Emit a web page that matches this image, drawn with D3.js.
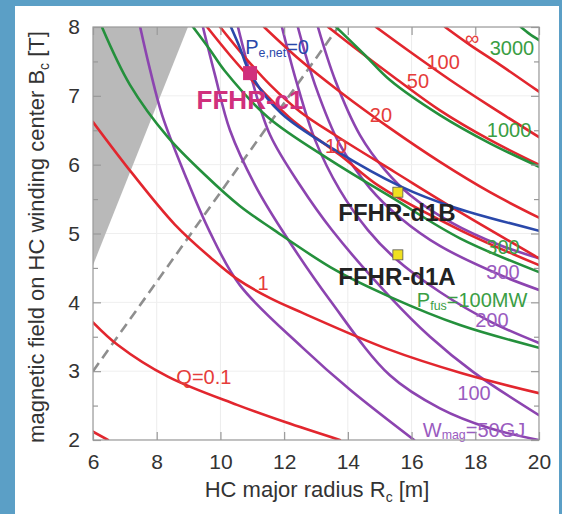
<!DOCTYPE html>
<html><head><meta charset="utf-8">
<script src="https://cdn.jsdelivr.net/npm/d3@7"></script>
<style>body{margin:0;background:#5b9fc6;} svg{display:block}</style>
</head><body><svg id="c" width="562" height="514"></svg>
<script>
// ---------- data (R [m], B [T]) ----------
const xTicks = [6, 8, 10, 12, 14, 16, 18, 20];
const yTicks = [2, 3, 4, 5, 6, 7, 8];
const yMinorTicks = [2.5, 3.5, 4.5, 5.5, 6.5, 7.5];

// Q contours (red)
const qLow   = [[6.00,2.12],[6.47,2.00]];
const q0_1   = [[6.00,3.71],[6.78,3.38],[8.35,2.92],[10.52,2.51],[12.03,2.26],[13.75,2.00]];
const q1     = [[6.00,6.62],[7.22,5.88],[8.57,5.13],[9.74,4.63],[10.52,4.34],[11.56,4.06],[12.56,3.85],[15.26,3.32],[17.58,2.97],[20.0,2.68]];
const qMid   = [[9.58,8.0],[10.30,7.59],[10.99,7.23],[12.18,6.68],[13.75,6.14],[15.01,5.68],[17.52,5.05],[20.0,4.54]];
const q10    = [[9.99,8.0],[10.77,7.56],[11.56,7.16],[12.50,6.77],[13.63,6.42],[15.48,5.89],[17.52,5.31],[20.0,4.64]];
const q20    = [[11.37,8.0],[12.50,7.52],[13.75,7.06],[15.32,6.53],[16.89,6.04],[18.46,5.60],[20.0,5.23]];
const q50    = [[13.38,8.0],[14.38,7.64],[15.48,7.26],[16.89,6.79],[18.46,6.36],[20.0,6.00]];
const q100   = [[14.88,8.0],[15.95,7.64],[17.21,7.23],[18.46,6.85],[20.0,6.40]];
const qInf   = [[17.05,8.0],[17.83,7.74],[18.78,7.45],[20.0,7.06]];

// fusion power contours (green)
const pf100  = [[6.28,8.0],[7.16,7.16],[8.35,6.40],[9.52,5.85],[10.61,5.40],[11.62,5.07],[13.60,4.47],[15.32,4.08],[17.52,3.67],[20.0,3.34]];
const pf300  = [[9.14,8.0],[9.67,7.67],[10.14,7.36],[11.49,6.69],[13.44,6.07],[15.39,5.52],[17.52,4.93],[20.0,4.44]];
const pf1000 = [[13.63,8.0],[14.54,7.59],[15.32,7.23],[16.89,6.72],[18.46,6.31],[20.0,5.97]];
const pf3000 = [[19.43,8.0],[19.70,7.90],[20.0,7.81]];

// stored magnetic energy contours (purple)
const wLow   = [[7.48,8.0],[7.79,7.38],[8.17,6.72],[8.89,5.85],[9.67,5.02],[10.61,4.25],[12.56,3.35],[14.07,2.73],[16.08,2.0]];
const w50    = [[9.45,8.0],[9.83,7.30],[10.30,6.50],[11.09,5.70],[11.93,5.05],[13.44,4.03],[15.32,2.94],[16.89,2.46],[18.46,2.17],[20.0,2.0]];
const w100   = [[10.55,8.0],[10.99,7.23],[11.56,6.43],[12.50,5.70],[13.50,5.05],[15.32,4.08],[16.58,3.50],[17.93,2.99],[20.0,2.36]];
const w200   = [[11.93,8.0],[12.37,7.23],[12.97,6.36],[13.75,5.63],[14.63,5.05],[15.48,4.64],[16.89,4.15],[18.52,3.71],[20.0,3.41]];
const w300   = [[12.43,8.0],[12.97,7.16],[13.75,6.29],[14.69,5.66],[15.64,5.23],[16.89,4.82],[18.87,4.38],[20.0,4.18]];
const wHigh  = [[13.06,8.0],[13.60,7.23],[14.38,6.43],[15.17,5.92],[15.95,5.56],[17.21,5.17],[18.78,4.83],[20.0,4.64]];

// net electric power = 0 (blue)
const peNet0 = [[10.33,8.0],[10.61,7.70],[10.93,7.33],[11.90,6.75],[13.60,6.21],[15.67,5.68],[17.27,5.39],[20.0,5.04]];

// excluded region (grey) and dashed line
const greyRegion = [[6,8],[8.98,8],[6,4.54]];
const dashedLine = [[6,3.0],[13.7,8.0]];

// design points
const designs = [
  {name:"FFHR-c1",  R:10.93, B:7.33},
  {name:"FFHR-d1B", R:15.57, B:5.60},
  {name:"FFHR-d1A", R:15.57, B:4.69}
];

// ---------- drawing ----------
const svg = d3.select("#c");
const FONT = "'Liberation Sans', Arial, Helvetica, sans-serif";
svg.append("rect").attr("x",15).attr("y",6).attr("width",544).attr("height",508).attr("fill","#ffffff");

const x = d3.scaleLinear().domain([6,20]).range([93,539]);
const y = d3.scaleLinear().domain([2,8]).range([440,27]);

svg.append("defs").append("clipPath").attr("id","plot")
  .append("rect").attr("x",x(6)).attr("y",y(8)).attr("width",x(20)-x(6)).attr("height",y(2)-y(8));

const g = svg.append("g").attr("clip-path","url(#plot)");

// faint grid
g.selectAll(".gx").data(xTicks).join("line")
  .attr("x1",d=>x(d)).attr("x2",d=>x(d)).attr("y1",y(2)).attr("y2",y(8))
  .attr("stroke","#ececec").attr("stroke-width",1);
g.selectAll(".gy").data(yTicks).join("line")
  .attr("y1",d=>y(d)).attr("y2",d=>y(d)).attr("x1",x(6)).attr("x2",x(20))
  .attr("stroke","#efefef").attr("stroke-width",1);

// grey region
g.append("path").attr("d", d3.line().x(d=>x(d[0])).y(d=>y(d[1]))(greyRegion)+"Z")
  .attr("fill","#b9b9b9");

// dashed line
g.append("path").attr("d", d3.line().x(d=>x(d[0])).y(d=>y(d[1]))(dashedLine))
  .attr("stroke","#8e8e8e").attr("stroke-width",2.6).attr("stroke-dasharray","10,6").attr("fill","none");

const line = d3.line().x(d=>x(d[0])).y(d=>y(d[1])).curve(d3.curveCatmullRom.alpha(0.5));
const RED="#e2262e", GREEN="#24903c", PURPLE="#8c44b0", BLUE="#2a48aa";

const curves = [
  ...[wLow,w50,w100,w200,w300,wHigh].map(d=>({d, c:PURPLE})),
  ...[qLow,q0_1,q1,qMid,q10,q20,q50,q100,qInf].map(d=>({d, c:RED})),
  ...[pf100,pf300,pf1000,pf3000].map(d=>({d, c:GREEN})),
  {d:peNet0, c:BLUE}
];
g.selectAll(".curve").data(curves).join("path")
  .attr("d",d=>line(d.d)).attr("fill","none")
  .attr("stroke",d=>d.c).attr("stroke-width",2.6).attr("stroke-linecap","round");

// design markers
const c1 = designs[0];
svg.append("rect").attr("x",x(c1.R)-7).attr("y",y(c1.B)-7).attr("width",14).attr("height",14)
  .attr("fill","#d0307c");
svg.selectAll(".dm").data(designs.slice(1)).join("rect")
  .attr("x",d=>x(d.R)-5).attr("y",d=>y(d.B)-5).attr("width",10).attr("height",10)
  .attr("fill","#f0e020").attr("stroke","#555").attr("stroke-width",0.8);

// labels
function label(txt, R, B, color, size, opts={}){
  const t = svg.append("text").attr("x",x(R)).attr("y",y(B))
    .attr("text-anchor",opts.anchor||"middle").attr("dominant-baseline","central")
    .attr("font-family",FONT).attr("font-size",size).attr("fill",color)
    .attr("font-weight",opts.weight||"normal");
  if (opts.sub){
    t.append("tspan").text(txt[0]);
    t.append("tspan").text(txt[1]).attr("font-size",size*0.62).attr("dy",size*0.28);
    t.append("tspan").text(txt[2]).attr("dy",-size*0.28);
  } else t.text(txt);
  return t;
}
const RL="#e53c3a", GL="#3a9e44", PL="#9a5cc0";
label("Q=0.1",9.48,2.92,RL,20);
label("1",11.34,4.28,RL,20);
label("10",13.63,6.27,RL,20);
label("20",15.04,6.72,RL,20);
label("50",16.20,7.22,RL,20);
label("100",16.99,7.49,RL,20);
label("∞",17.90,7.84,RL,20);
label("3000",19.15,7.70,GL,20);
label("1000",19.06,6.50,GL,20);
label("300",18.87,4.80,GL,20);
label(["P","fus","=100MW"],17.90,4.03,GL,20,{sub:true});
label("300",18.87,4.44,PL,20);
label("200",18.52,3.74,PL,20);
label("100",17.96,2.68,PL,20);
label(["W","mag","=50GJ"],17.96,2.15,PL,20,{sub:true});
label(["P","e,net","=0"],11.78,7.71,"#2a48aa",20,{sub:true});
label("FFHR-c1",10.93,6.94,"#d0307c",26,{weight:"bold"});
label("FFHR-d1B",15.54,5.31,"#222",24,{weight:"bold"});
label("FFHR-d1A",15.54,4.37,"#222",24,{weight:"bold"});

// frame
svg.append("rect").attr("x",x(6)).attr("y",y(8)).attr("width",x(20)-x(6)).attr("height",y(2)-y(8))
  .attr("fill","none").attr("stroke","#999").attr("stroke-width",1.2);

// axes
function styleAxis(sel){
  sel.select(".domain").remove();
  sel.selectAll("line").attr("stroke","#999").attr("stroke-width",1.2);
  sel.selectAll("text").attr("font-family",FONT).attr("font-size",21).attr("fill","#333");
}
svg.append("g").attr("transform",`translate(${x(6)},0)`)
  .call(d3.axisLeft(y).tickValues(yTicks).tickSizeInner(-8).tickSizeOuter(0).tickPadding(13).tickFormat(d3.format("d")))
  .call(styleAxis);
svg.append("g").attr("transform",`translate(${x(6)},0)`)
  .call(d3.axisLeft(y).tickValues(yMinorTicks).tickSizeInner(-5).tickSizeOuter(0).tickFormat(""))
  .call(styleAxis);
svg.append("g").attr("transform",`translate(${x(20)},0)`)
  .call(d3.axisRight(y).tickValues(yTicks).tickSizeInner(-8).tickSizeOuter(0).tickFormat(""))
  .call(styleAxis);
svg.append("g").attr("transform",`translate(${x(20)},0)`)
  .call(d3.axisRight(y).tickValues(yMinorTicks).tickSizeInner(-5).tickSizeOuter(0).tickFormat(""))
  .call(styleAxis);
svg.append("g").attr("transform",`translate(0,${y(2)})`)
  .call(d3.axisBottom(x).tickValues(xTicks).tickSizeInner(-8).tickSizeOuter(0).tickPadding(14).tickFormat(d3.format("d")))
  .call(styleAxis);
svg.append("g").attr("transform",`translate(0,${y(8)})`)
  .call(d3.axisTop(x).tickValues(xTicks).tickSizeInner(-8).tickSizeOuter(0).tickFormat(""))
  .call(styleAxis);

// axis titles
const xt = svg.append("text").attr("x",317).attr("y",497).attr("text-anchor","middle")
  .attr("font-family",FONT).attr("font-size",22).attr("fill","#333");
xt.append("tspan").text("HC major radius R");
xt.append("tspan").text("c").attr("font-size",14).attr("dy",5);
xt.append("tspan").text(" [m]").attr("dy",-5);

const yt = svg.append("text").attr("transform","translate(44,237) rotate(-90)").attr("text-anchor","middle")
  .attr("font-family",FONT).attr("font-size",22).attr("fill","#333");
yt.append("tspan").text("magnetic field on HC winding center B");
yt.append("tspan").text("c").attr("font-size",14).attr("dy",5);
yt.append("tspan").text(" [T]").attr("dy",-5);
</script>
</body></html>
